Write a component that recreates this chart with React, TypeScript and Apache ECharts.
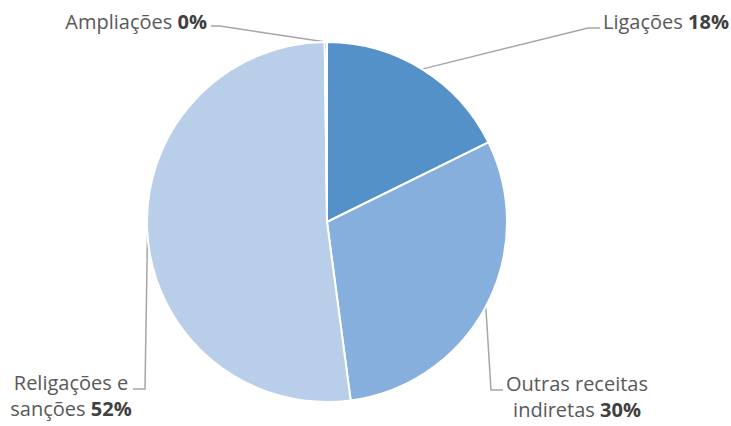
import React, { useEffect, useRef } from "react";
import * as echarts from "echarts";

const categories = ["Ligações", "Outras receitas indiretas", "Religações e sanções", "Ampliações"];
const values = [17.7, 30.2, 51.9, 0.2];
const labelPrefixes = ["Ligações ", "Outras receitas\nindiretas ", "Religações e\nsanções ", "Ampliações "];

const colors = ["#5591C9", "#86AFDD", "#B9CEE9", "#3F6FA6"];

// label placement (layout only)
const labelPos = [
  { x: 603, y: 21, align: "left", elbow: [[588, 28], [600, 28]] },
  { x: 577, y: 396, align: "center", elbow: [[491, 390], [503, 390]] },
  { x: 71, y: 395, align: "center", elbow: [[145, 389], [133, 389]] },
  { x: 207, y: 21, align: "right", elbow: [[220, 26], [211, 26]] },
];

export default function App() {
  const ref = useRef<HTMLDivElement>(null);
  useEffect(() => {
    if (!ref.current) return;
    const chart = echarts.init(ref.current, undefined, { renderer: "svg" });
    const data = categories.map((name, i) => ({
      name,
      value: values[i],
      itemStyle: { color: colors[i] },
    }));
    chart.setOption({
      animation: false,
      backgroundColor: "#ffffff",
      series: [
        {
          type: "pie",
          center: [327, 222],
          radius: [0, 180],
          startAngle: 90,
          clockwise: true,
          percentPrecision: 0,
          avoidLabelOverlap: false,
          minShowLabelAngle: 0,
          data,
          itemStyle: { borderColor: "#ffffff", borderWidth: 2 },
          emphasis: { disabled: true },
          label: {
            show: true,
            position: "outside",
            fontFamily: "Open Sans",
            fontSize: 20,
            lineHeight: 26,
            formatter: (p: any) => {
              const pre = labelPrefixes[p.dataIndex];
              const lines = pre.split("\n");
              const last = lines.pop();
              const head = lines.map((l) => `{a|${l}}`).join("\n");
              return (head ? head + "\n" : "") + `{a|${last}}{b|${Math.round(p.percent)}%}`;
            },
            rich: {
              a: { color: "#595959", fontFamily: "Open Sans", fontSize: 20, lineHeight: 26 },
              b: { color: "#404040", fontFamily: "Open Sans", fontSize: 20, fontWeight: "bold", lineHeight: 26 },
            },
          },
          labelLine: {
            show: true,
            length: 10,
            length2: 10,
            smooth: false,
            lineStyle: { color: "#A6A6A6", width: 1.5 },
          },
          labelLayout: (params: any) => {
            const lp = labelPos[params.dataIndex];
            const p0 = params.labelLinePoints && params.labelLinePoints[0];
            const res: any = {
              x: lp.x,
              y: lp.y,
              align: lp.align,
              verticalAlign: "middle",
            };
            if (p0) {
              res.labelLinePoints = [[p0[0], p0[1]], lp.elbow[0], lp.elbow[1]];
            }
            return res;
          },
        },
      ],
    });
    return () => chart.dispose();
  }, []);
  return (
    <div
      ref={ref}
      style={{ position: "fixed", left: 0, top: 0, width: 731, height: 426 }}
    />
  );
}
